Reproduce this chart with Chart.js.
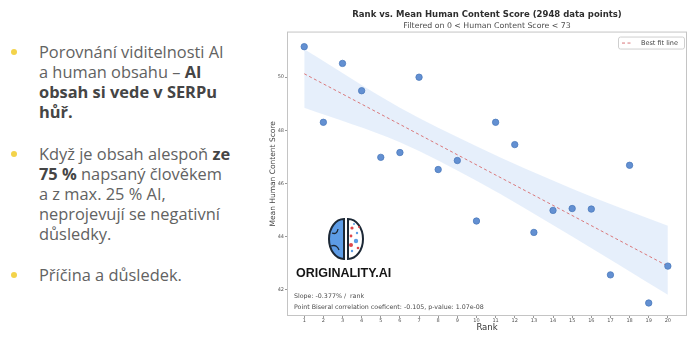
<!DOCTYPE html>
<html>
<head>
<meta charset="utf-8">
<script src="https://cdn.jsdelivr.net/npm/chart.js@4"></script>
<style>
    body { margin: 0; width: 700px; height: 341px; background: #fff; overflow: hidden; position: relative; }
    #notes { position: absolute; left: 0; top: 42px; margin: 0; padding: 0; list-style: none;
             font-family: 'Open Sans', sans-serif; font-size: 16.4px; line-height: 20px; color: #626262; }
    #notes li { position: relative; padding-left: 39px; margin-bottom: 21.5px; white-space: nowrap; }
    #notes li::before { content: ''; position: absolute; left: 11px; top: 7px; width: 6px; height: 6px;
                        border-radius: 50%; background: #f3d34a; }
    #notes b { color: #454545; }
    #chart-box { position: absolute; left: 262px; top: 0; width: 438px; height: 341px; }
</style>
</head>
<body>
<ul id="notes">
    <li>Porovnání viditelnosti AI<br>a human obsahu – <b>AI<br>obsah si vede v SERPu<br>hůř.</b></li>
    <li>Když je obsah alespoň <b>ze<br>75 %</b> napsaný člověkem<br>a z max. 25 % AI,<br>neprojevují se negativní<br>důsledky.</li>
    <li>Příčina a důsledek.</li>
</ul>
<div id="chart-box"><canvas id="chart-rank" width="438" height="341"></canvas></div>
<script>
const font_family = '"DejaVu Sans", sans-serif'

// mean human content score per SERP rank
const ranks = [1, 2, 3, 4, 5, 6, 7, 8, 9, 10, 11, 12, 13, 14, 15, 16, 17, 18, 19, 20]
const mean_scores = [51.15, 48.30, 50.52, 49.49, 46.98, 47.16, 50.00, 46.52, 46.86, 44.58,
                     48.30, 47.46, 44.15, 44.98, 45.05, 45.03, 42.55, 46.68, 41.49, 42.88]

// best fit line and its confidence band
const fit_ranks = [1, 20]
const fit_scores = [50.13, 42.88]
const band_ranks = [1, 6, 10, 15, 20]
const band_upper = [51.05, 48.85, 47.40, 45.80, 44.40]
const band_lower = [48.85, 47.55, 46.10, 44.00, 41.80]

const y_ticks = [42, 44, 46, 48, 50]

const slope_text = 'Slope: -0.377% /  rank'
const corr_text = 'Point Biseral correlation coeficent: -0.105, p-value: 1.07e-08'

const pairs = (xs, ys) => xs.map((x, i) => ({ x: x, y: ys[i] }))

// frame, legend box, logo and the stats text
const overlay = {
    id: 'overlay',
    beforeDatasetsDraw(chart) {
        const a = chart.chartArea
        const ctx = chart.ctx
        ctx.save()
        ctx.strokeStyle = '#c4c4c4'
        ctx.lineWidth = 1
        ctx.strokeRect(a.left + 0.5, a.top + 0.5, a.right - a.left - 1, a.bottom - a.top - 1)
        ctx.restore()
    },
    afterDatasetsDraw(chart) {
        const a = chart.chartArea
        const ctx = chart.ctx
        ctx.save()

        // legend
        const fit = chart.data.datasets[1]
        const lx = a.right - 69, ly = a.top + 5
        ctx.fillStyle = 'rgba(255,255,255,0.9)'
        ctx.strokeStyle = '#cfcfcf'
        ctx.lineWidth = 1
        ctx.beginPath()
        ctx.roundRect(lx + 0.5, ly + 0.5, 66, 12, 2)
        ctx.fill()
        ctx.stroke()
        ctx.strokeStyle = fit.borderColor
        ctx.setLineDash(fit.borderDash)
        ctx.beginPath()
        ctx.moveTo(lx + 4, ly + 6.5)
        ctx.lineTo(lx + 14, ly + 6.5)
        ctx.stroke()
        ctx.setLineDash([])
        ctx.fillStyle = '#444'
        ctx.font = '6.5px ' + font_family
        ctx.textBaseline = 'middle'
        ctx.fillText(fit.label, lx + 23, ly + 6.5)

        // stats
        ctx.fillStyle = '#4a4a4a'
        ctx.font = '6.3px ' + font_family
        ctx.fillText(slope_text, a.left + 7, a.bottom - 20)
        ctx.fillText(corr_text, a.left + 7, a.bottom - 8.5)

        // logo
        const cx = a.left + 59, cy = a.bottom - 77
        ctx.lineWidth = 2
        ctx.strokeStyle = '#1c2836'
        ctx.fillStyle = '#5d9ce6'
        ctx.beginPath()
        ctx.ellipse(cx - 2, cy, 15, 20, 0, Math.PI / 2, Math.PI * 1.5)
        ctx.closePath()
        ctx.fill()
        ctx.stroke()
        ctx.fillStyle = '#fff'
        ctx.beginPath()
        ctx.ellipse(cx + 2, cy, 15, 20, 0, -Math.PI / 2, Math.PI / 2)
        ctx.closePath()
        ctx.fill()
        ctx.stroke()
        ctx.lineWidth = 1.3
        ctx.beginPath()
        ctx.moveTo(cx - 14, cy - 6)
        ctx.quadraticCurveTo(cx - 9, cy - 4, cx - 8, cy - 10)
        ctx.moveTo(cx - 15, cy + 7)
        ctx.quadraticCurveTo(cx - 9, cy + 5, cx - 7, cy + 11)
        ctx.stroke()
        const dots = [[6, -11, 1.6, '#e0464b'], [11, -6, 1.2, '#5d9ce6'], [5, -3, 1.4, '#e0464b'],
                      [10, 2, 2.2, '#5d9ce6'], [5, 6, 2.0, '#e0464b'], [12, 9, 1.3, '#e0464b'],
                      [6, 12, 1.2, '#5d9ce6'], [13, -12, 1.0, '#e0464b'], [8, -15, 1.0, '#5d9ce6']]
        dots.forEach(d => {
            ctx.fillStyle = d[3]
            ctx.beginPath()
            ctx.arc(cx + d[0], cy + d[1], d[2], 0, Math.PI * 2)
            ctx.fill()
        })
        ctx.fillStyle = '#151515'
        ctx.font = 'bold 12.5px "Liberation Sans", sans-serif'
        ctx.textBaseline = 'alphabetic'
        ctx.fillText('ORIGINALITY.AI', a.left + 9, a.bottom - 39)
        ctx.restore()
    }
}

const chart_data = {
    datasets: [{
        label: 'Mean score',
        data: pairs(ranks, mean_scores),
        backgroundColor: '#6390d2',
        borderColor: '#4d7bbd',
        borderWidth: 0.8,
        pointRadius: 3.2,
        order: 1
    }, {
        type: 'line',
        label: 'Best fit line',
        data: pairs(fit_ranks, fit_scores),
        borderColor: '#d9777a',
        borderWidth: 1,
        borderDash: [3, 2.5],
        pointRadius: 0,
        fill: false,
        order: 2
    }, {
        type: 'line',
        label: 'band upper',
        data: pairs(band_ranks, band_upper),
        borderWidth: 0,
        pointRadius: 0,
        cubicInterpolationMode: 'monotone',
        fill: false,
        order: 3
    }, {
        type: 'line',
        label: 'band lower',
        data: pairs(band_ranks, band_lower),
        borderWidth: 0,
        pointRadius: 0,
        cubicInterpolationMode: 'monotone',
        backgroundColor: 'rgba(190, 212, 245, 0.38)',
        fill: '-1',
        order: 3
    }]
}

const chart_config = {
    responsive: false,
    animation: false,
    devicePixelRatio: 1,
    layout: { padding: { right: 13, bottom: 5 } },
    plugins: {
        legend: { display: false },
        tooltip: { enabled: false },
        title: {
            display: true,
            fullSize: false,
            text: 'Rank vs. Mean Human Content Score (2948 data points)',
            font: { size: 8.5, weight: 'bold', family: font_family },
            color: '#2e2e2e',
            padding: { top: 10, bottom: 1 }
        },
        subtitle: {
            display: true,
            fullSize: false,
            text: 'Filtered on 0 < Human Content Score < 73',
            font: { size: 7.8, family: font_family },
            color: '#4a4a4a',
            padding: { top: 0, bottom: 1 }
        }
    },
    scales: {
        x: {
            type: 'linear',
            min: 0.1,
            max: 21,
            afterBuildTicks: scale => { scale.ticks = ranks.map(v => ({ value: v })) },
            afterFit: scale => { scale.height = 20 },
            grid: { display: true, drawOnChartArea: false, drawTicks: true, tickLength: 2, color: '#999' },
            border: { display: false },
            ticks: { font: { size: 5, family: font_family }, color: '#555', padding: 0, maxRotation: 0 },
            title: { display: true, text: 'Rank', font: { size: 8.5, family: font_family }, color: '#333',
                     padding: { top: 0, bottom: 3 } }
        },
        y: {
            min: 41.0,
            max: 51.72,
            afterBuildTicks: scale => { scale.ticks = y_ticks.map(v => ({ value: v })) },
            afterFit: scale => { scale.width = 25 },
            grid: { display: true, drawOnChartArea: false, drawTicks: true, tickLength: 2, color: '#999' },
            border: { display: false },
            ticks: { font: { size: 5, family: font_family }, color: '#555', padding: 1 },
            title: { display: true, text: 'Mean Human Content Score', font: { size: 7.5, family: font_family },
                     color: '#444', padding: { top: 7, bottom: 0 } }
        }
    }
}

const chart = new Chart('chart-rank', {
    type: 'scatter',
    data: chart_data,
    options: chart_config,
    plugins: [overlay]
})
</script>
</body>
</html>
